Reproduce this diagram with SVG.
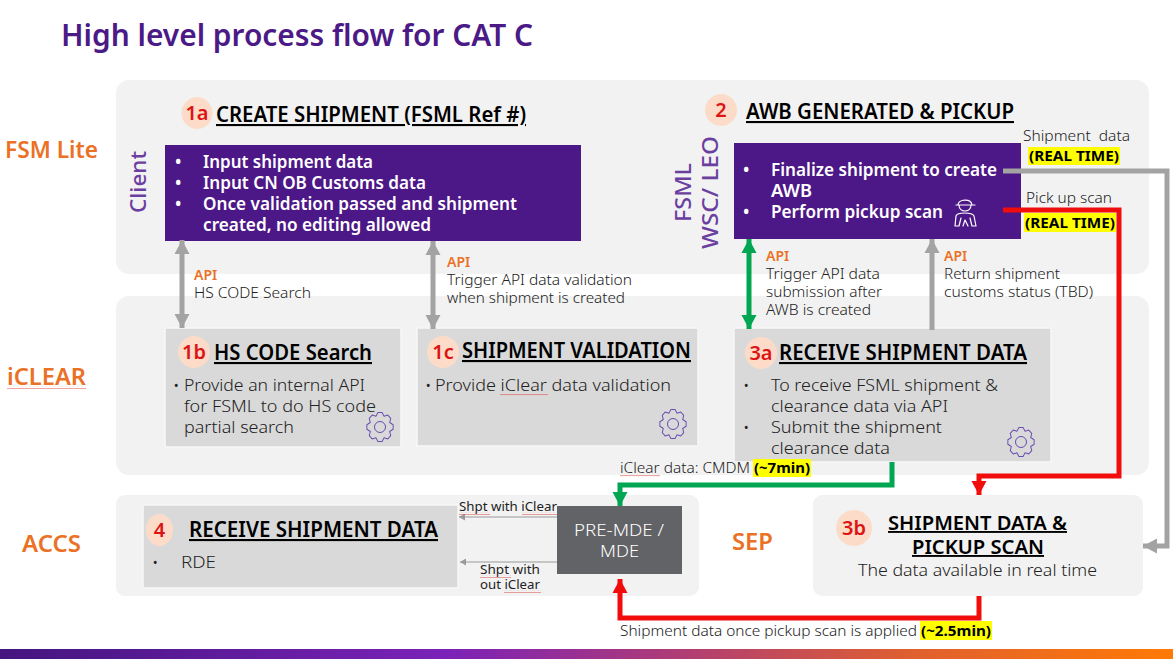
<svg xmlns="http://www.w3.org/2000/svg" width="1173" height="659" viewBox="0 0 1173 659">
<style>
text{font-family:"Noto Sans","Open Sans","Liberation Sans",sans-serif;fill:#262626}
.panel{fill:#f2f2f2}
.box{fill:#d9d9d9;stroke:#f7f7f7;stroke-width:1.5}
.purple{fill:#4c1786}
.lane{fill:#ea7125;font-size:23px;font-weight:600}
.vert{fill:#6b3fa0;font-size:22px;font-weight:500}
.head{fill:#000;font-size:21px;font-weight:600;text-decoration:underline;text-decoration-thickness:2px}
.head2{font-size:19px}
.num{fill:#dc1414;font-size:20px;font-weight:600;text-anchor:middle}
.badge{fill:#fcdcc9}
.wt{fill:#fff;font-size:17px;font-weight:600}
.body{font-size:17px;font-weight:300;fill:#222}
.api{fill:#ea7125;font-size:14px;font-weight:600}
.note{font-size:14px;font-weight:300;fill:#222;white-space:pre}
.small{font-size:12.500px;fill:#222}
.hl{fill:#ffff00}
.rt{fill:#000;font-size:14px;font-weight:700}
.line{fill:none;stroke-linejoin:miter}
.gear{fill:none;stroke:#6a4bb0;stroke-width:1;stroke-linejoin:round}
.sq{fill:url(#squig)}
</style>
<defs>
<linearGradient id="bar" x1="0" x2="1" y1="0" y2="0">
<stop offset="0" stop-color="#44157f"/><stop offset="0.38" stop-color="#7b22b8"/><stop offset="0.55" stop-color="#a8387f"/><stop offset="0.78" stop-color="#e0602f"/><stop offset="1" stop-color="#ff7a05"/>
</linearGradient>
<pattern id="squig" width="4" height="3" patternUnits="userSpaceOnUse"><path d="M0 2.2L1 1L2 2.2L3 1L4 2.2" fill="none" stroke="#d9403a" stroke-width="0.5"/></pattern>
<marker id="ag" markerUnits="userSpaceOnUse" markerWidth="16" markerHeight="17" refX="14" refY="8.500" orient="auto-start-reverse"><path d="M0 1L14 8.500L0 16Z" fill="#a3a3a3"/></marker>
<marker id="agr" markerUnits="userSpaceOnUse" markerWidth="16" markerHeight="17" refX="14" refY="8.500" orient="auto-start-reverse"><path d="M0 1L14 8.500L0 16Z" fill="#00a651"/></marker>
<marker id="ar" markerUnits="userSpaceOnUse" markerWidth="16" markerHeight="17" refX="14" refY="8.500" orient="auto"><path d="M0 1L14 8.500L0 16Z" fill="#f20d0d"/></marker>
<marker id="at" markerUnits="userSpaceOnUse" markerWidth="7" markerHeight="7" refX="6" refY="3.500" orient="auto"><path d="M0 0L6 3.500L0 7Z" fill="#999"/></marker>
<g id="gear" class="gear"><path transform="scale(.95,1.05)" d="M13.83-2.19L13.83 2.19L10.2 4.3L11.33 8.23L8.23 11.33L4.3 10.2L2.19 13.83L-2.19 13.83L-4.3 10.2L-8.23 11.33L-11.33 8.23L-10.2 4.3L-13.83 2.19L-13.83-2.19L-10.2-4.3L-11.33-8.23L-8.23-11.33L-4.3-10.2L-2.19-13.83L2.19-13.83L4.3-10.2L8.23-11.33L11.33-8.23L10.2-4.3Z"/><circle r="5.500"/></g>
</defs>
<rect width="1173" height="659" fill="#fff"/>
<text id="title" x="61" y="46" font-size="30" font-weight="600" style="fill:#4b1a86" textLength="472" lengthAdjust="spacingAndGlyphs">High level process flow for CAT C</text>

<g id="lane-panels">
<rect class="panel" x="116" y="80" width="1033" height="194" rx="13"/>
<rect class="panel" x="116" y="296" width="1033" height="179" rx="13"/>
<rect class="panel" x="116" y="495" width="583" height="101" rx="9"/>
</g>
<g id="lane-labels">
<text class="lane" x="5" y="158" textLength="93" lengthAdjust="spacingAndGlyphs">FSM Lite</text>
<text class="lane" x="7" y="385" textLength="79" lengthAdjust="spacingAndGlyphs">iCLEAR</text>
<rect class="sq" x="7" y="386" width="79" height="3"/>
<text class="lane" x="22" y="552" textLength="59" lengthAdjust="spacingAndGlyphs">ACCS</text>
<text class="lane" x="732" y="550" textLength="41" lengthAdjust="spacingAndGlyphs">SEP</text>
<text class="vert" transform="translate(146,213) rotate(-90)" textLength="62" lengthAdjust="spacingAndGlyphs">Client</text>
<text class="vert" transform="translate(691,222) rotate(-90)" textLength="59" lengthAdjust="spacingAndGlyphs">FSML</text>
<text class="vert" transform="translate(718,249) rotate(-90)" textLength="113" lengthAdjust="spacingAndGlyphs">WSC/ LEO</text>
</g>

<g id="node-1a">
<ellipse class="badge" cx="197" cy="113" rx="15.500" ry="16"/>
<text class="num" x="197" y="120">1a</text>
<text class="head" x="216" y="122" textLength="310" lengthAdjust="spacingAndGlyphs">CREATE SHIPMENT (FSML Ref #)</text>
<rect class="purple" x="165" y="145" width="416" height="96"/>
<text class="wt" x="175" y="168">•</text>
<text class="wt" x="203" y="168" textLength="170" lengthAdjust="spacingAndGlyphs">Input shipment data</text>
<text class="wt" x="175" y="189">•</text>
<text class="wt" x="203" y="189" textLength="223" lengthAdjust="spacingAndGlyphs">Input CN OB Customs data</text>
<text class="wt" x="175" y="210">•</text>
<text class="wt" x="203" y="210" textLength="314" lengthAdjust="spacingAndGlyphs">Once validation passed and shipment</text>
<text class="wt" x="203" y="231" textLength="228" lengthAdjust="spacingAndGlyphs">created, no editing allowed</text>
</g>

<g id="node-2">
<ellipse class="badge" cx="721" cy="110" rx="16" ry="16"/>
<text class="num" x="721" y="117">2</text>
<text class="head" x="746" y="119" textLength="268" lengthAdjust="spacingAndGlyphs">AWB GENERATED &amp; PICKUP</text>
<rect class="purple" x="734" y="143" width="287" height="96"/>
<text class="wt" x="743" y="176">•</text>
<text class="wt" x="771" y="176" textLength="226" lengthAdjust="spacingAndGlyphs">Finalize shipment to create</text>
<text class="wt" x="771" y="197" textLength="41" lengthAdjust="spacingAndGlyphs">AWB</text>
<text class="wt" x="743" y="218">•</text>
<text class="wt" x="771" y="218" textLength="172" lengthAdjust="spacingAndGlyphs">Perform pickup scan</text>
<g fill="none" stroke="#fff" stroke-width="1.2" stroke-linejoin="round" stroke-linecap="round">
<path d="M958 205C958 199 971 198 972 205M956 205H975M959 205C959 213 971 213 971 205"/>
<path d="M955 226L956 216C957 212 972 212 974 216L976 226M955 226H959L961 218M976 226H972L970 218M963 226L965 220L968 226"/>
</g>
</g>

<g id="node-1b">
<rect class="box" x="165" y="328" width="236" height="119"/>
<ellipse class="badge" cx="194" cy="352" rx="16" ry="16"/>
<text class="num" x="194" y="359">1b</text>
<text class="head" x="214" y="360" textLength="158" lengthAdjust="spacingAndGlyphs">HS CODE Search</text>
<text class="body" x="173" y="391">•</text>
<text class="body" x="184" y="391" textLength="181" lengthAdjust="spacingAndGlyphs">Provide an internal API</text>
<text class="body" x="184" y="412" textLength="192" lengthAdjust="spacingAndGlyphs">for FSML to do HS code</text>
<text class="body" x="184" y="433" textLength="110" lengthAdjust="spacingAndGlyphs">partial search</text>
<use href="#gear" transform="translate(380,427)"/>
</g>

<g id="node-1c">
<rect class="box" x="417" y="328" width="281" height="118"/>
<ellipse class="badge" cx="443" cy="352" rx="16" ry="16"/>
<text class="num" x="443" y="359">1c</text>
<text class="head" x="462" y="358" textLength="229" lengthAdjust="spacingAndGlyphs">SHIPMENT VALIDATION</text>
<text class="body" x="425" y="391">•</text>
<text class="body" x="435" y="391" textLength="236" lengthAdjust="spacingAndGlyphs">Provide iClear data validation</text>
<rect class="sq" x="500" y="393" width="48" height="3"/>
<use href="#gear" transform="translate(673,424)"/>
</g>

<g id="node-3a">
<rect class="box" x="734" y="328" width="317" height="134"/>
<ellipse class="badge" cx="761" cy="353" rx="16" ry="16"/>
<text class="num" x="761" y="360">3a</text>
<text class="head" x="779" y="360" textLength="248" lengthAdjust="spacingAndGlyphs">RECEIVE SHIPMENT DATA</text>
<text class="body" x="743" y="391">•</text>
<text class="body" x="771" y="391" textLength="227" lengthAdjust="spacingAndGlyphs">To receive FSML shipment &amp;</text>
<text class="body" x="771" y="412" textLength="177" lengthAdjust="spacingAndGlyphs">clearance data via API</text>
<text class="body" x="743" y="433">•</text>
<text class="body" x="771" y="433" textLength="171" lengthAdjust="spacingAndGlyphs">Submit the shipment</text>
<text class="body" x="771" y="454" textLength="119" lengthAdjust="spacingAndGlyphs">clearance data</text>
<use href="#gear" transform="translate(1021,442)"/>
</g>

<g id="node-4">
<rect class="box" x="143" y="505" width="315" height="83"/>
<ellipse class="badge" cx="159.500" cy="530" rx="13.500" ry="16"/>
<text class="num" x="159.500" y="537">4</text>
<text class="head" x="189" y="537" textLength="249" lengthAdjust="spacingAndGlyphs">RECEIVE SHIPMENT DATA</text>
<text class="body" x="152" y="568">•</text>
<text class="body" x="181" y="568" textLength="35" lengthAdjust="spacingAndGlyphs">RDE</text>
</g>

<g id="node-mde">
<rect x="557" y="506" width="125" height="68" fill="#626366"/>
<text x="574" y="536" font-size="17" font-weight="300" style="fill:#fff" textLength="90" lengthAdjust="spacingAndGlyphs">PRE-MDE /</text>
<text x="600" y="557" font-size="17" font-weight="300" style="fill:#fff" textLength="39" lengthAdjust="spacingAndGlyphs">MDE</text>
</g>

<g id="node-3b">
<rect class="panel" x="813" y="495" width="330" height="101" rx="9"/>
<ellipse class="badge" cx="854" cy="528" rx="18" ry="18"/>
<text class="num" x="854" y="535">3b</text>
<text class="head head2" x="888" y="530" textLength="179" lengthAdjust="spacingAndGlyphs">SHIPMENT DATA &amp;</text>
<text class="head head2" x="912" y="554" textLength="132" lengthAdjust="spacingAndGlyphs">PICKUP SCAN</text>
<text class="body" x="858" y="576" textLength="239" lengthAdjust="spacingAndGlyphs">The data available in real time</text>
</g>

<g id="connectors">
<path class="line" d="M182 240V328" stroke="#a3a3a3" stroke-width="5" marker-start="url(#ag)" marker-end="url(#ag)"/>
<path class="line" d="M433 241V329" stroke="#a3a3a3" stroke-width="5" marker-start="url(#ag)" marker-end="url(#ag)"/>
<path class="line" d="M749 239V329" stroke="#00a651" stroke-width="5" marker-start="url(#agr)" marker-end="url(#agr)"/>
<path class="line" d="M932 330V239" stroke="#a3a3a3" stroke-width="5" marker-end="url(#ag)"/>
<path class="line" d="M1003 171H1167V546H1143" stroke="#a3a3a3" stroke-width="5" marker-end="url(#ag)"/>
<path class="line" d="M1003 210H1119V476H979V495" stroke="#f20d0d" stroke-width="5" marker-end="url(#ar)"/>
<path class="line" d="M892 462V485H620V506" stroke="#00a651" stroke-width="5" marker-end="url(#agr)"/>
<path class="line" d="M979 596V618H620V579" stroke="#f20d0d" stroke-width="5" marker-end="url(#ar)"/>
<path class="line" d="M557 517H459" stroke="#999" stroke-width="1" marker-end="url(#at)"/>
<path class="line" d="M557 562H460" stroke="#999" stroke-width="1" marker-end="url(#at)"/>
</g>

<g id="connector-labels">
<text class="api" x="194" y="280">API</text>
<text class="note" x="194" y="298" textLength="117" lengthAdjust="spacingAndGlyphs">HS CODE Search</text>
<text class="api" x="447" y="267">API</text>
<text class="note" x="447" y="285" textLength="185" lengthAdjust="spacingAndGlyphs">Trigger API data validation</text>
<text class="note" x="447" y="303" textLength="178" lengthAdjust="spacingAndGlyphs">when shipment is created</text>
<text class="api" x="766" y="261">API</text>
<text class="note" x="766" y="279" textLength="114" lengthAdjust="spacingAndGlyphs">Trigger API data</text>
<text class="note" x="766" y="297" textLength="116" lengthAdjust="spacingAndGlyphs">submission after</text>
<text class="note" x="766" y="315" textLength="105" lengthAdjust="spacingAndGlyphs">AWB is created</text>
<text class="api" x="944" y="261">API</text>
<text class="note" x="944" y="279" textLength="116" lengthAdjust="spacingAndGlyphs">Return shipment</text>
<text class="note" x="944" y="297" textLength="149" lengthAdjust="spacingAndGlyphs">customs status (TBD)</text>
<text class="note" x="1023" y="141" textLength="107" lengthAdjust="spacingAndGlyphs">Shipment  data</text>
<rect class="hl" x="1028" y="147" width="92" height="18"/>
<text class="rt" x="1029" y="161" textLength="90" lengthAdjust="spacingAndGlyphs">(REAL TIME)</text>
<text class="note" x="1026" y="203" textLength="86" lengthAdjust="spacingAndGlyphs">Pick up scan</text>
<rect class="hl" x="1024" y="213" width="92" height="19"/>
<text class="rt" x="1025" y="228" textLength="90" lengthAdjust="spacingAndGlyphs">(REAL TIME)</text>
<text class="note" x="620" y="473" textLength="130" lengthAdjust="spacingAndGlyphs">iClear data: CMDM</text>
<rect class="sq" x="620" y="474" width="40" height="3"/>
<rect class="hl" x="753" y="459" width="58" height="18"/>
<text class="rt" x="754" y="473" textLength="56" lengthAdjust="spacingAndGlyphs">(~7min)</text>
<text class="note" x="620" y="636" textLength="297" lengthAdjust="spacingAndGlyphs">Shipment data once pickup scan is applied</text>
<rect class="hl" x="920" y="621" width="72" height="19"/>
<text class="rt" x="921" y="636" textLength="70" lengthAdjust="spacingAndGlyphs">(~2.5min)</text>
<text class="small" x="459" y="511" textLength="98" lengthAdjust="spacingAndGlyphs">Shpt with iClear</text>
<rect class="sq" x="459" y="512" width="31" height="3"/>
<rect class="sq" x="522" y="512" width="35" height="3"/>
<text class="small" x="480" y="574" textLength="60" lengthAdjust="spacingAndGlyphs">Shpt with</text>
<rect class="sq" x="480" y="575" width="31" height="3"/>
<text class="small" x="480" y="589" textLength="60" lengthAdjust="spacingAndGlyphs">out iClear</text>
<rect class="sq" x="504" y="590" width="37" height="3"/>
</g>

<rect id="footer-bar" x="0" y="649" width="1173" height="10" fill="url(#bar)"/>
</svg>
